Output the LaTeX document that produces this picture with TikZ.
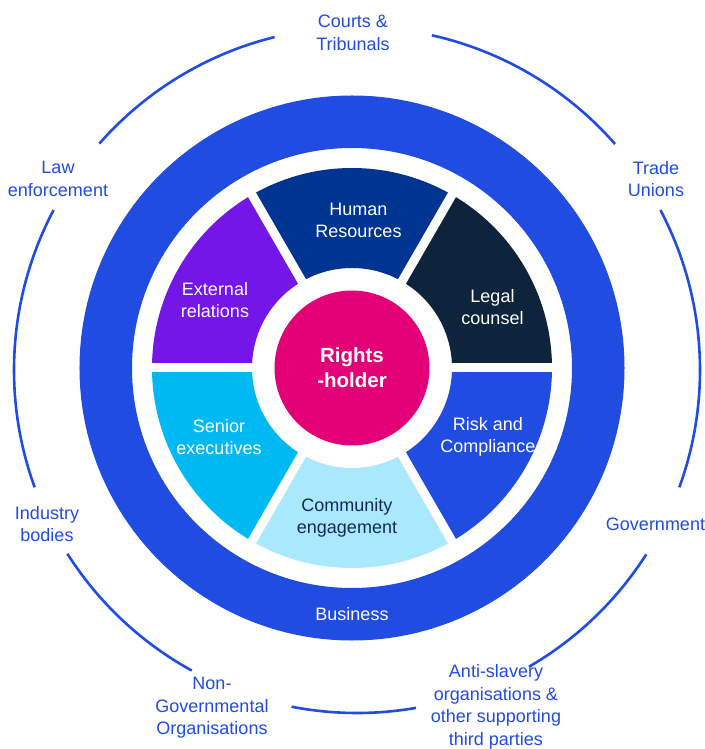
\documentclass[tikz,border=0pt]{standalone}
\usepackage{fontspec}
\setmainfont{Liberation Sans}
\definecolor{ringblue}{RGB}{32,76,226}
\definecolor{hrnavy}{RGB}{0,52,145}
\definecolor{legalnavy}{RGB}{14,36,60}
\definecolor{extpurple}{RGB}{116,22,232}
\definecolor{seniorcyan}{RGB}{0,185,242}
\definecolor{commlight}{RGB}{170,232,253}
\definecolor{commtext}{RGB}{16,42,94}
\definecolor{rightsmag}{RGB}{228,0,118}

\begin{document}
\begin{tikzpicture}[x=1pt,y=1pt,semithick]
    \tikzstyle{label}=[align=center,yshift=-2pt,font=\fontsize{18}{22.5}\selectfont]
    \tikzstyle{outer}=[label,text=ringblue]
    \tikzstyle{inner}=[label,text=white]
    \tikzstyle{arcline}=[draw=ringblue,line width=2.6pt]
    \useasboundingbox (-352,-381) rectangle (352,368);
    \coordinate (c) at (0,0);
    \coordinate (o) at (5,-2);

    % outer ring of stakeholders
    \foreach \s/\e in {103.9/138.7, 41.2/77.4, 152.2/200, -20/27.8,
                       212.4/241.2, 259/279.9, 300.1/327.5}
        \draw[arcline] (o) ++(\s:343) arc[start angle=\s, end angle=\e, radius=343];

    % business ring
    \draw[ringblue, line width=52.5pt] (c) circle[radius=246.25];

    % inner segments
    \foreach \a/\col in {0/legalnavy, 60/hrnavy, 120/extpurple,
                         180/seniorcyan, 240/commlight, 300/ringblue}
        \fill[\col] (\a:100) arc[start angle=\a, end angle=\a+60, radius=100]
            -- (\a+60:200) arc[start angle=\a+60, end angle=\a, radius=200] -- cycle;
    \foreach \a in {0,60,...,300}
        \draw[white, line width=9pt] (\a:90) -- (\a:210);

    \node[circle, fill=rightsmag, minimum size=155pt, inner sep=0pt, text=white,
          align=center, font=\bfseries\fontsize{20.5}{25}\selectfont] (R) at (c) {Rights\\-holder};

    \node[inner]                 (HR)  at (6.5,149.5)  {Human\\Resources};
    \node[inner]                 (LC)  at (140.5,63)   {Legal\\counsel};
    \node[inner]                 (ER)  at (-137,70)    {External\\relations};
    \node[inner]                 (SE)  at (-133,-67)   {Senior\\executives};
    \node[label, text=commtext]  (CE)  at (-5,-148)    {Community\\engagement};
    \node[inner]                 (RC)  at (136,-67)    {Risk and\\Compliance};
    \node[inner]                 (B)   at (0,-244)     {Business};

    \node[outer] (CT)  at (1,337)        {Courts \&\\Tribunals};
    \node[outer] (LE)  at (-294,191)     {Law\\enforcement};
    \node[outer] (TU)  at (304,191)      {Trade\\Unions};
    \node[outer] (IB)  at (-305,-154)    {Industry\\bodies};
    \node[outer] (G)   at (303.5,-154)   {Government};
    \node[outer] (NGO) at (-140,-338)    {Non-\\Governmental\\Organisations};
    \node[outer, inner sep=1pt] (AS) at (144,-337) {Anti-slavery\\organisations \&\\other supporting\\third parties};
\end{tikzpicture}
\end{document}
